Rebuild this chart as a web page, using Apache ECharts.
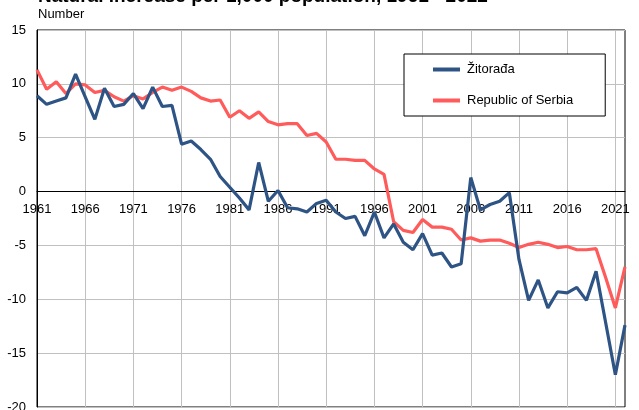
<!DOCTYPE html>
<html>
<head>
<meta charset="utf-8">
<script src="https://cdn.jsdelivr.net/npm/echarts@6/dist/echarts.min.js"></script>
<style>
html,body{margin:0;padding:0;background:#fff;}
#chart{width:639px;height:410px;}
</style>
</head>
<body>
<div id="chart"></div>
<script>
const titleText = "Natural increase per 1,000 population, 1961 - 2022";
const unitText = "Number";
const years = [];
for (let y = 1961; y <= 2022; y++) years.push(String(y));
const seriesNames = ["Žitorađa", "Republic of Serbia"];
const zitoradja = [
  8.9, 8.1, 8.4, 8.7, 10.9, 8.8, 6.7, 9.6, 7.9, 8.1,
  9.1, 7.7, 9.7, 7.9, 8.0, 4.4, 4.7, 3.9, 3.0, 1.4,
  0.4, -0.6, -1.7, 2.7, -0.9, 0.1, -1.5, -1.6, -1.9, -1.1,
  -0.8, -1.9, -2.5, -2.3, -4.1, -1.9, -4.3, -3.0, -4.7, -5.4,
  -3.9, -5.9, -5.7, -7.0, -6.7, 1.3, -1.7, -1.2, -0.9, -0.1,
  -6.3, -10.1, -8.2, -10.8, -9.3, -9.4, -8.9, -10.1, -7.4, -12.2,
  -17.0, -12.4
];
const serbia = [
  11.3, 9.5, 10.2, 9.1, 10.0, 9.9, 9.2, 9.4, 8.8, 8.4,
  8.9, 8.6, 9.2, 9.7, 9.4, 9.7, 9.3, 8.7, 8.4, 8.5,
  6.9, 7.5, 6.8, 7.4, 6.5, 6.2, 6.3, 6.3, 5.2, 5.4,
  4.6, 3.0, 3.0, 2.9, 2.9, 2.1, 1.6, -2.8, -3.6, -3.8,
  -2.6, -3.3, -3.3, -3.5, -4.5, -4.3, -4.6, -4.5, -4.5, -4.8,
  -5.2, -4.9, -4.7, -4.9, -5.2, -5.1, -5.4, -5.4, -5.3, -8.0,
  -10.8, -7.0
];
const yMin = -20, yMax = 15, yStep = 5;

const FONT = "Liberation Sans, Arial, sans-serif";
const W = 639, H = 410;
const gridTop = 30, gridBottom = 3;
const plotH = H - gridTop - gridBottom;
const zeroFromBottom = plotH * (0 - yMin) / (yMax - yMin);

const chart = echarts.init(document.getElementById('chart'), null, {renderer: 'canvas'});
chart.setOption({
  animation: false,
  backgroundColor: '#fff',
  textStyle: {fontFamily: FONT},
  graphic: [
    {type: 'text', left: 38, top: -13, style: {text: titleText, font: 'bold 19px ' + FONT, fill: '#000'}},
    {type: 'text', left: 38, top: 8, style: {text: unitText, font: '13px ' + FONT, fill: '#000'}}
  ],
  grid: {left: 37, right: 14, top: gridTop, bottom: gridBottom, show: true, borderColor: '#000', borderWidth: 1,
         containLabel: false, outerBoundsMode: 'none'},
  legend: {
    left: 404, top: 54,
    orient: 'vertical',
    backgroundColor: '#fff',
    borderColor: '#000', borderWidth: 1, borderRadius: 0,
    padding: [9, 32, 9, 29],
    itemGap: 18,
    itemWidth: 27, itemHeight: 4,
    icon: 'rect',
    textStyle: {fontSize: 13, color: '#000', fontFamily: FONT, padding: [0, 0, 0, 2]},
    data: seriesNames
  },
  xAxis: [{
    type: 'category',
    data: years,
    boundaryGap: false,
    position: 'bottom',
    offset: -zeroFromBottom,
    axisLine: {onZero: false, lineStyle: {color: '#000', width: 1}},
    axisTick: {show: false},
    axisLabel: {interval: 4, color: '#000', fontSize: 13, margin: 11, fontFamily: FONT},
    splitLine: {show: true, interval: 4, lineStyle: {color: '#c0c0c0', width: 1}}
  }],
  yAxis: {
    type: 'value',
    min: yMin, max: yMax, interval: yStep,
    axisLine: {show: true, lineStyle: {color: '#000', width: 1}},
    axisTick: {show: false},
    axisLabel: {color: '#000', fontSize: 13, margin: 11, fontFamily: FONT},
    splitLine: {show: true, lineStyle: {color: '#c0c0c0', width: 1}}
  },
  series: [
    {name: seriesNames[0], type: 'line', data: zitoradja, showSymbol: false, symbol: 'none',
     lineStyle: {color: '#2e5485', width: 3.2}, itemStyle: {color: '#2e5485'}, z: 3},
    {name: seriesNames[1], type: 'line', data: serbia, showSymbol: false, symbol: 'none',
     lineStyle: {color: '#ff5b5b', width: 3.2}, itemStyle: {color: '#ff5b5b'}, z: 2}
  ]
});
</script>
</body>
</html>
